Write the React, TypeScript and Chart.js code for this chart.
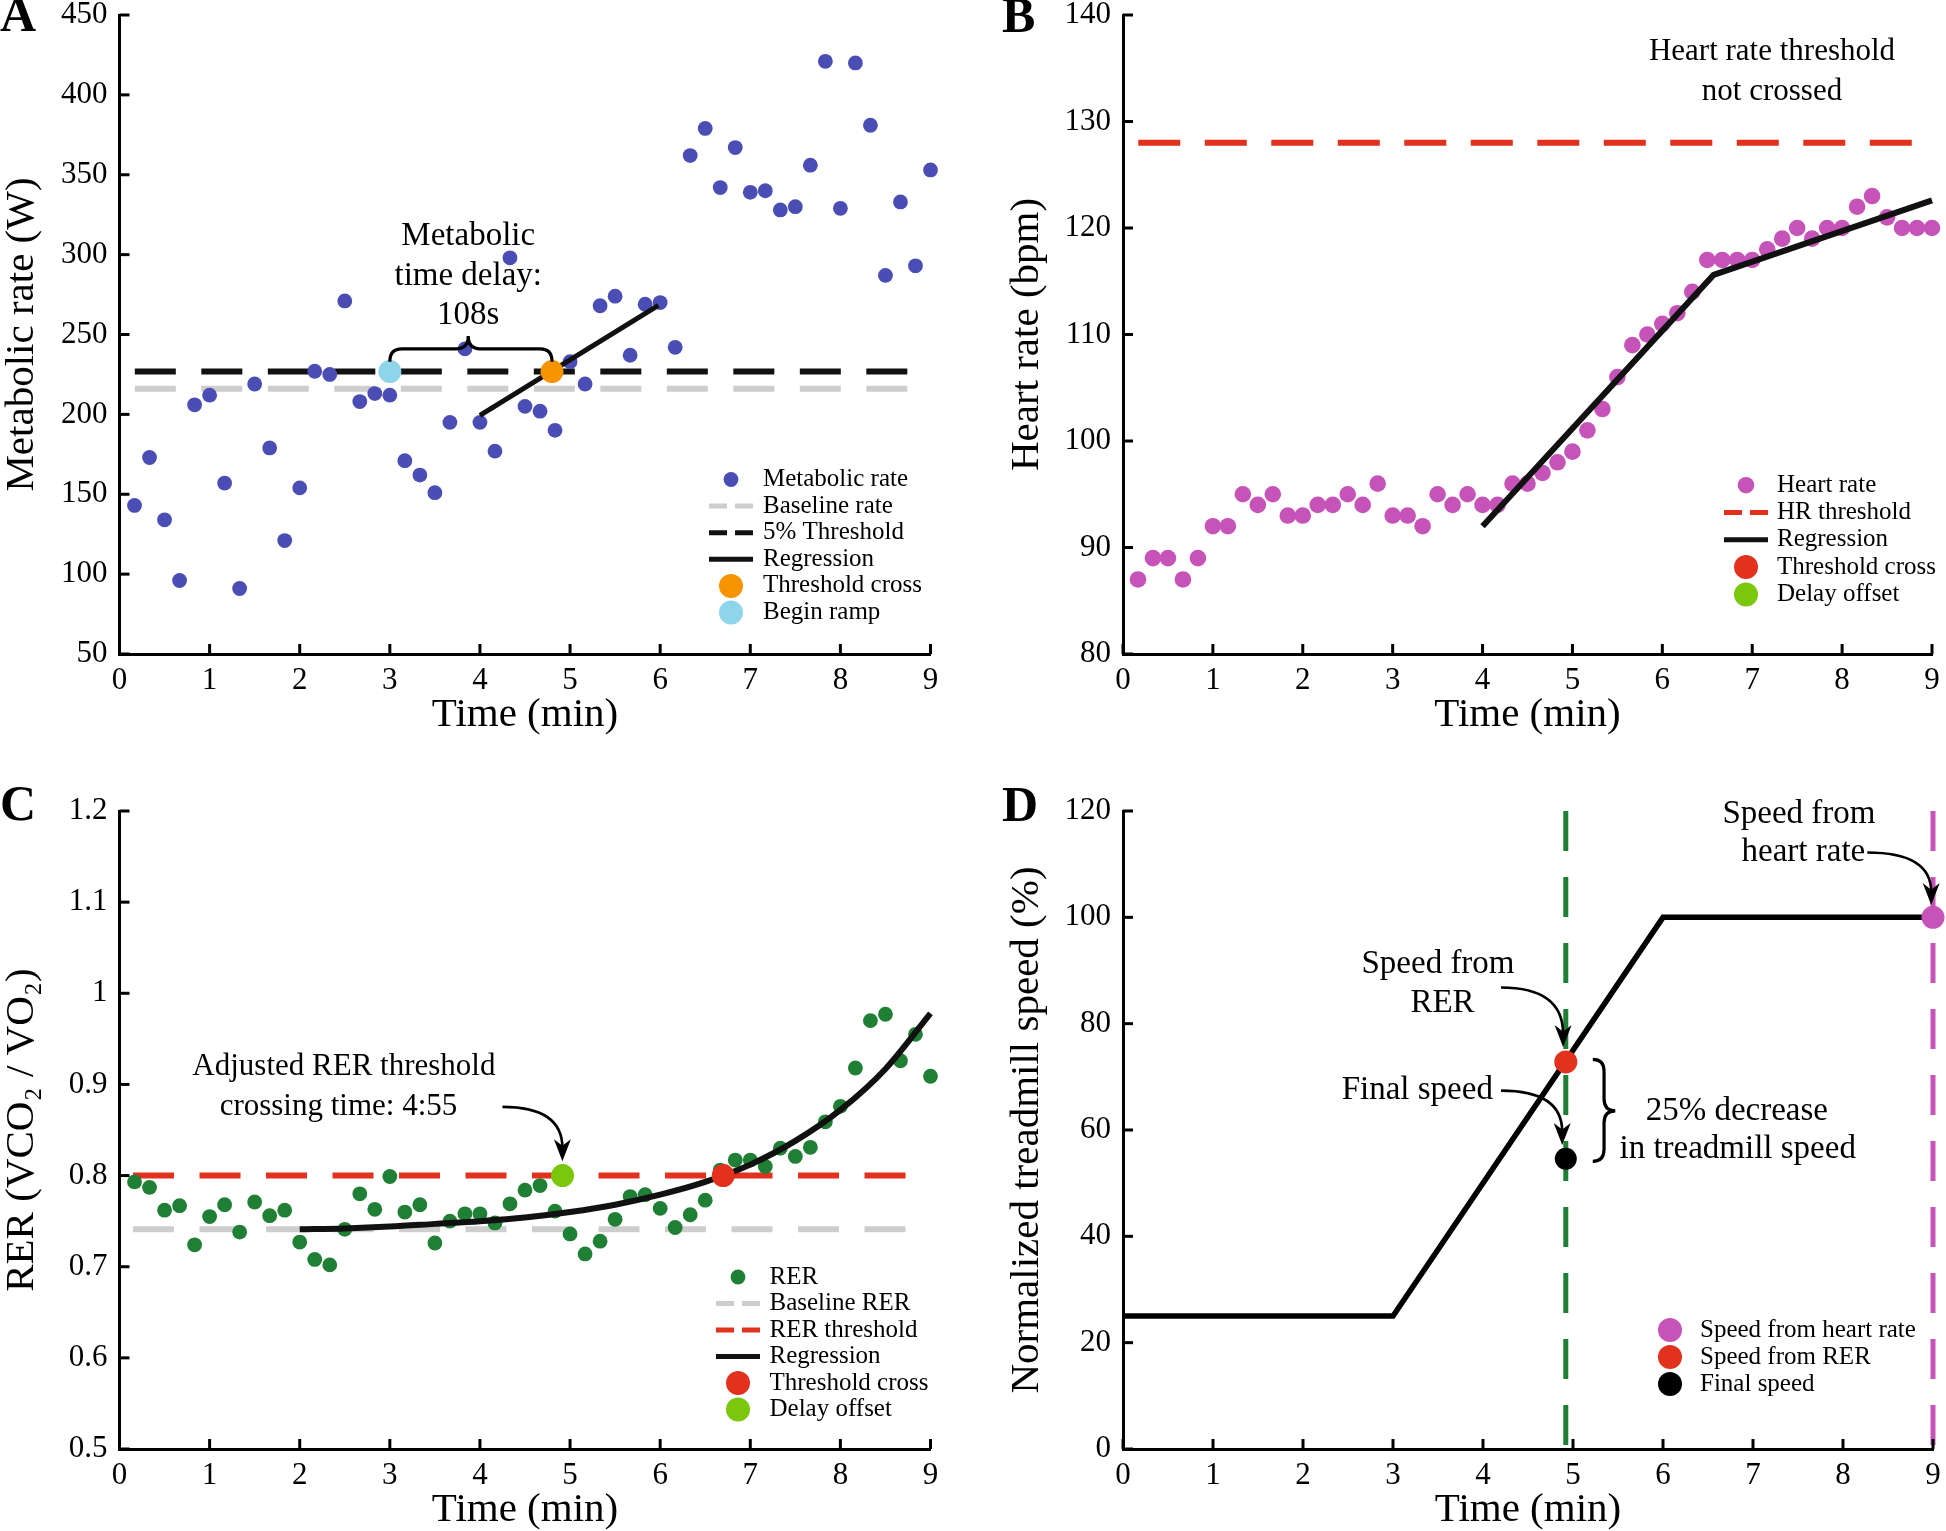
import React, { useEffect, useRef } from 'react';
import { Chart, registerables } from 'chart.js';

Chart.register(...registerables);

const SERIF = '"Liberation Serif", "Times New Roman", Times, serif';

// ---------- data ----------
const sampleTimeSec = [
  10, 20, 30, 40, 50, 60, 70, 80, 90, 100, 110, 120, 130, 140, 150, 160, 170, 180,
  190, 200, 210, 220, 230, 240, 250, 260, 270, 280, 290, 300, 310, 320, 330, 340, 350, 360,
  370, 380, 390, 400, 410, 420, 430, 440, 450, 460, 470, 480, 490, 500, 510, 520, 530, 540,
];

// Panel A: metabolic rate (W)
const metabolicW = [
  143, 173, 134, 96, 206, 212, 157, 91, 219, 179, 121, 154, 227, 225, 271, 208, 213, 212,
  171, 162, 151, 195, 241, 195, 177, 298, 205, 202, 190, 233, 219, 268, 274, 237, 269, 270,
  242, 362, 379, 342, 367, 339, 340, 328, 330, 356, 421, 329, 420, 381, 287, 333, 293, 353,
];
const metBaselineW = 216;
const metThresholdW = 226.8;
const metRefLineMin = [0.17, 9];
const metRegMin = [4.0, 5.98];
const metRegW = [199.3, 268.2];
const metBeginRamp = { x: 3.0, y: 226.8 };
const metThresholdCross = { x: 4.8, y: 226.8 };

// Panel B: heart rate (bpm)
const heartRateBpm = [
  87, 89, 89, 87, 89, 92, 92, 95, 94, 95, 93, 93, 94, 94, 95, 94, 96, 93,
  93, 92, 95, 94, 95, 94, 94, 96, 96, 97, 98, 99, 101, 103, 106, 109, 110, 111,
  112, 114, 117, 117, 117, 117, 118, 119, 120, 119, 120, 120, 122, 123, 121, 120, 120, 120,
];
const hrThresholdBpm = 128;
const hrRefLineMin = [0.17, 9];
const hrRegMin = [4.0, 6.57, 9.0];
const hrRegBpm = [92.0, 115.6, 122.6];

// Panel C: RER
const rerValues = [
  0.793, 0.787, 0.762, 0.767, 0.724, 0.755, 0.768, 0.738, 0.771, 0.756, 0.762, 0.727, 0.708, 0.702, 0.741, 0.78, 0.763, 0.799,
  0.76, 0.768, 0.726, 0.75, 0.758, 0.758, 0.748, 0.769, 0.784, 0.789, 0.761, 0.736, 0.714, 0.728, 0.752, 0.777, 0.779, 0.764,
  0.743, 0.757, 0.773, 0.806, 0.817, 0.817, 0.81, 0.83, 0.821, 0.831, 0.859, 0.876, 0.918, 0.97, 0.977, 0.926, 0.955, 0.909,
];
const rerBaseline = 0.741;
const rerThreshold = 0.8;
const rerRefLineMin = [0.15, 8.8];
const rerFitMin = [2, 2.5, 3, 3.5, 4, 4.5, 5, 5.5, 6, 6.5, 7, 7.5, 8, 8.5, 9];
const rerFitValue = [0.741, 0.742, 0.744, 0.747, 0.75, 0.754, 0.76, 0.768, 0.779, 0.793, 0.812, 0.838, 0.872, 0.917, 0.978];
const rerThresholdCross = { x: 6.7, y: 0.8 };
const rerDelayOffset = { x: 4.917, y: 0.8 };

// Panel D: normalized treadmill speed (%)
const speedTimeMin = [0, 3, 6, 9];
const speedPct = [25, 25, 100, 100];
const rerSpeedTimeMin = 4.92;
const hrSpeedTimeMin = 9;
const speedFromHr = { x: 9, y: 100 };
const speedFromRer = { x: 4.92, y: 72.8 };
const finalSpeed = { x: 4.92, y: 54.6 };
const vLinePct = [120, 0];

// ---------- colours ----------
const C_BLUE = '#4a4db3';
const C_GRAY = '#cdcdcd';
const C_ORANGE = '#f59300';
const C_LIGHTBLUE = '#8fd5ea';
const C_MAGENTA = '#c653b8';
const C_RED = '#e2311d';
const C_LIME = '#7ac70c';
const C_GREEN = '#1f7f34';

// ---------- helpers ----------
const toMin = (s: number) => s / 60;
const pts = (xs: number[], ys: number[]) => xs.map((x, i) => ({ x, y: ys[i] }));

function scatterSet(data: any[], color: string, r: number) {
  return {
    type: 'scatter', data, showLine: false, pointRadius: r, pointHoverRadius: r,
    backgroundColor: color, pointBackgroundColor: color, pointBorderWidth: 0, borderWidth: 0, clip: false,
  };
}
function lineSet(data: any[], color: string, width: number, dash: number[] = [], smooth = false) {
  return {
    type: 'scatter', data, showLine: true, pointRadius: 0, pointHoverRadius: 0, borderColor: color,
    backgroundColor: color, borderWidth: width, borderDash: dash, fill: false, clip: false,
    cubicInterpolationMode: smooth ? 'monotone' : 'default', tension: 0,
  };
}

function txt(ctx: CanvasRenderingContext2D, s: string, x: number, y: number, size: number, align: CanvasTextAlign = 'center', bold = false) {
  ctx.font = `${bold ? 'bold ' : ''}${size}px ${SERIF}`;
  ctx.fillStyle = '#000';
  ctx.textAlign = align;
  ctx.textBaseline = 'middle';
  ctx.fillText(s, x, y);
}

function curvedArrow(ctx: CanvasRenderingContext2D, x0: number, y0: number, x1: number, y1: number) {
  const cx = x1, cy = y0;
  const dx = x1 - cx, dy = y1 - cy;
  const L = Math.hypot(dx, dy) || 1;
  const ux = dx / L, uy = dy / L;
  const head = 22, half = 8.5;
  ctx.strokeStyle = '#000';
  ctx.lineWidth = 2.6;
  ctx.setLineDash([]);
  ctx.beginPath();
  ctx.moveTo(x0, y0);
  ctx.quadraticCurveTo(cx, cy, x1 - ux * head * 0.6, y1 - uy * head * 0.6);
  ctx.stroke();
  const bx = x1 - ux * head, by = y1 - uy * head;
  ctx.fillStyle = '#000';
  ctx.beginPath();
  ctx.moveTo(x1, y1);
  ctx.lineTo(bx - uy * half, by + ux * half);
  ctx.lineTo(x1 - ux * head * 0.7, y1 - uy * head * 0.7);
  ctx.lineTo(bx + uy * half, by - ux * half);
  ctx.closePath();
  ctx.fill();
}

function hBrace(ctx: CanvasRenderingContext2D, x1: number, x2: number, xm: number, yb: number, yt: number) {
  const ya = (yb + yt) / 2;
  const q = 12;
  ctx.strokeStyle = '#000';
  ctx.lineWidth = 3.2;
  ctx.setLineDash([]);
  ctx.beginPath();
  ctx.moveTo(x1, yb);
  ctx.quadraticCurveTo(x1, ya, x1 + q, ya);
  ctx.lineTo(xm - q, ya);
  ctx.quadraticCurveTo(xm, ya, xm, yt);
  ctx.quadraticCurveTo(xm, ya, xm + q, ya);
  ctx.lineTo(x2 - q, ya);
  ctx.quadraticCurveTo(x2, ya, x2, yb);
  ctx.stroke();
}

function vBrace(ctx: CanvasRenderingContext2D, xl: number, xt: number, yTop: number, yMid: number, yBot: number) {
  const xa = (xl + xt) / 2;
  const q = 12;
  ctx.strokeStyle = '#000';
  ctx.lineWidth = 3.2;
  ctx.setLineDash([]);
  ctx.beginPath();
  ctx.moveTo(xl, yTop);
  ctx.quadraticCurveTo(xa, yTop, xa, yTop + q);
  ctx.lineTo(xa, yMid - q);
  ctx.quadraticCurveTo(xa, yMid, xt, yMid);
  ctx.quadraticCurveTo(xa, yMid, xa, yMid + q);
  ctx.lineTo(xa, yBot - q);
  ctx.quadraticCurveTo(xa, yBot, xl, yBot);
  ctx.stroke();
}

type LegendItem = { kind: 'dot' | 'dash' | 'line'; color: string; r?: number; label: string };
function drawLegend(chart: any, ctx: CanvasRenderingContext2D, items: LegendItem[], mx: number, tx: number, y0: number, dy: number) {
  const a = chart.chartArea;
  items.forEach((it, i) => {
    const y = a.top + y0 + i * dy;
    const x = a.left + mx;
    if (it.kind === 'dot') {
      ctx.fillStyle = it.color;
      ctx.beginPath();
      ctx.arc(x, y, it.r || 8, 0, Math.PI * 2);
      ctx.fill();
    } else {
      ctx.strokeStyle = it.color;
      ctx.lineWidth = 5;
      ctx.lineCap = 'butt';
      ctx.setLineDash(it.kind === 'dash' ? [18, 8] : []);
      ctx.beginPath();
      ctx.moveTo(x - 22, y);
      ctx.lineTo(x + 22, y);
      ctx.stroke();
      ctx.setLineDash([]);
    }
    txt(ctx, it.label, a.left + tx, y, 25, 'left');
  });
}

function inwardTicks(chart: any) {
  const ctx = chart.ctx;
  const a = chart.chartArea;
  const xs = chart.scales.x, ys = chart.scales.y;
  ctx.save();
  ctx.strokeStyle = '#000';
  ctx.lineWidth = 3;
  ctx.setLineDash([]);
  xs.ticks.forEach((t: any) => {
    const p = xs.getPixelForValue(t.value);
    ctx.beginPath();
    ctx.moveTo(p, a.bottom);
    ctx.lineTo(p, a.bottom - 10);
    ctx.stroke();
  });
  ys.ticks.forEach((t: any) => {
    const p = ys.getPixelForValue(t.value);
    ctx.beginPath();
    ctx.moveTo(a.left, p);
    ctx.lineTo(a.left + 10, p);
    ctx.stroke();
  });
  ctx.restore();
}

interface PanelSpec {
  yMin: number; yMax: number; yStep: number; yTitle: string;
  yWidth: number; xHeight: number; padTop: number; padRight: number;
  yTitlePad: number; xTitlePad: number; yFmt?: (v: number) => string;
}

function makeOptions(s: PanelSpec): any {
  const titleFont = { family: SERIF, size: 41, lineHeight: 1 };
  const border = { display: true, color: '#000', width: 3 };
  return {
    responsive: false,
    animation: false,
    events: [],
    layout: { padding: { top: s.padTop, right: s.padRight, bottom: 0, left: 0 }, autoPadding: false },
    plugins: { legend: { display: false }, tooltip: { enabled: false } },
    scales: {
      x: {
        type: 'linear', position: 'bottom', min: 0, max: 9, border,
        grid: { display: true, drawOnChartArea: false, drawTicks: true, tickLength: 11.5, tickColor: 'rgba(0,0,0,0)' },
        ticks: { stepSize: 1, font: { family: SERIF, size: 31, lineHeight: 1 }, color: '#000', padding: 0, maxRotation: 0, autoSkip: false },
        title: { display: true, text: 'Time (min)', font: titleFont, color: '#000', padding: { top: 0, bottom: s.xTitlePad } },
        afterFit: (sc: any) => { sc.height = s.xHeight; },
      },
      y: {
        type: 'linear', position: 'left', min: s.yMin, max: s.yMax, border,
        grid: { display: true, drawOnChartArea: false, drawTicks: true, tickLength: 12, tickColor: 'rgba(0,0,0,0)' },
        ticks: {
          stepSize: s.yStep, font: { family: SERIF, size: 31, lineHeight: 0.9 }, color: '#000', padding: 0, autoSkip: false,
          callback: (v: any) => (s.yFmt ? s.yFmt(Number(v)) : String(v)),
        },
        title: { display: true, text: s.yTitle, font: titleFont, color: '#000', padding: { top: s.yTitlePad, bottom: 0 } },
        afterFit: (sc: any) => { sc.width = s.yWidth; },
      },
    },
  };
}

function decorPlugin(letter: string, lx: number, ly: number, draw: (chart: any, ctx: CanvasRenderingContext2D, X: (v: number) => number, Y: (v: number) => number) => void) {
  return {
    id: 'decor' + letter,
    afterDraw(chart: any) {
      inwardTicks(chart);
      const ctx = chart.ctx as CanvasRenderingContext2D;
      const X = (v: number) => chart.scales.x.getPixelForValue(v);
      const Y = (v: number) => chart.scales.y.getPixelForValue(v);
      ctx.save();
      draw(chart, ctx, X, Y);
      txt(ctx, letter, lx, ly, 50, 'left', true);
      ctx.restore();
    },
  };
}

// ---------- panel configs ----------
function configA(): any {
  const t = sampleTimeSec.map(toMin);
  return {
    type: 'scatter',
    data: {
      datasets: [
        scatterSet([metThresholdCross], C_ORANGE, 11.5),
        scatterSet([metBeginRamp], C_LIGHTBLUE, 11.5),
        lineSet(pts(metRegMin, metRegW), '#111', 5),
        scatterSet(pts(t, metabolicW), C_BLUE, 7.4),
        lineSet(pts(metRefLineMin, [metThresholdW, metThresholdW]), '#111', 6, [41, 25.5]),
        lineSet(pts(metRefLineMin, [metBaselineW, metBaselineW]), C_GRAY, 6, [41, 25.5]),
      ],
    },
    options: makeOptions({
      yMin: 50, yMax: 450, yStep: 50, yTitle: 'Metabolic rate (W)',
      yWidth: 119.5, xHeight: 111, padTop: 15, padRight: 42.5, yTitlePad: 1.5, xTitlePad: 29.5,
    }),
    plugins: [decorPlugin('A', 0, 18, (chart, ctx, X, Y) => {
      txt(ctx, 'Metabolic', X(3.87), Y(311.7), 33);
      txt(ctx, 'time delay:', X(3.87), Y(286.5), 33);
      txt(ctx, '108s', X(3.87), Y(262), 33);
      hBrace(ctx, X(3.0), X(4.8), X(3.87), Y(233), Y(249));
      drawLegend(chart, ctx, [
        { kind: 'dot', color: C_BLUE, r: 7.4, label: 'Metabolic rate' },
        { kind: 'dash', color: C_GRAY, label: 'Baseline rate' },
        { kind: 'dash', color: '#111', label: '5% Threshold' },
        { kind: 'line', color: '#111', label: 'Regression' },
        { kind: 'dot', color: C_ORANGE, r: 12, label: 'Threshold cross' },
        { kind: 'dot', color: C_LIGHTBLUE, r: 12, label: 'Begin ramp' },
      ], 611.5, 643.5, 464.5, 26.6);
    })],
  };
}

function configB(): any {
  const t = sampleTimeSec.map(toMin);
  return {
    type: 'scatter',
    data: {
      datasets: [
        lineSet(pts(hrRegMin, hrRegBpm), '#111', 6),
        scatterSet(pts(t, heartRateBpm), C_MAGENTA, 8.3),
        lineSet(pts(hrRefLineMin, [hrThresholdBpm, hrThresholdBpm]), C_RED, 6, [42, 24.5]),
      ],
    },
    options: makeOptions({
      yMin: 80, yMax: 140, yStep: 10, yTitle: 'Heart rate (bpm)',
      yWidth: 133, xHeight: 111, padTop: 15, padRight: 14, yTitlePad: 17, xTitlePad: 29.5,
    }),
    plugins: [decorPlugin('B', 12, 19.5, (chart, ctx, X, Y) => {
      txt(ctx, 'Heart rate threshold', X(7.22), Y(136.5), 31);
      txt(ctx, 'not crossed', X(7.22), Y(132.8), 31);
      drawLegend(chart, ctx, [
        { kind: 'dot', color: C_MAGENTA, r: 8.3, label: 'Heart rate' },
        { kind: 'dash', color: C_RED, label: 'HR threshold' },
        { kind: 'line', color: '#111', label: 'Regression' },
        { kind: 'dot', color: C_RED, r: 12, label: 'Threshold cross' },
        { kind: 'dot', color: C_LIME, r: 12, label: 'Delay offset' },
      ], 623, 654, 470.2, 27.3);
    })],
  };
}

function configC(): any {
  const t = sampleTimeSec.map(toMin);
  return {
    type: 'scatter',
    data: {
      datasets: [
        scatterSet([rerThresholdCross], C_RED, 11.5),
        scatterSet([rerDelayOffset], C_LIME, 11.5),
        lineSet(pts(rerFitMin, rerFitValue), '#111', 6, [], true),
        scatterSet(pts(t, rerValues), C_GREEN, 7.4),
        lineSet(pts(rerRefLineMin, [rerThreshold, rerThreshold]), C_RED, 6, [41, 25.5]),
        lineSet(pts(rerRefLineMin, [rerBaseline, rerBaseline]), C_GRAY, 6, [41, 25.5]),
      ],
    },
    options: makeOptions({
      yMin: 0.5, yMax: 1.2, yStep: 0.1, yTitle: 'RER (VCO\u2082 / VO\u2082)',
      yWidth: 119.5, xHeight: 82, padTop: 31, padRight: 42.5, yTitlePad: 1.5, xTitlePad: 0,
      yFmt: (v) => String(Math.round(v * 10) / 10),
    }),
    plugins: [decorPlugin('C', 0, 27.5, (chart, ctx, X, Y) => {
      txt(ctx, 'Adjusted RER threshold', X(2.49), Y(0.919), 31);
      txt(ctx, 'crossing time: 4:55', X(2.43), Y(0.875), 31);
      curvedArrow(ctx, X(4.25), Y(0.8754), X(4.915), Y(0.8158));
      drawLegend(chart, ctx, [
        { kind: 'dot', color: C_GREEN, r: 7.4, label: 'RER' },
        { kind: 'dash', color: C_GRAY, label: 'Baseline RER' },
        { kind: 'dash', color: C_RED, label: 'RER threshold' },
        { kind: 'line', color: '#111', label: 'Regression' },
        { kind: 'dot', color: C_RED, r: 12, label: 'Threshold cross' },
        { kind: 'dot', color: C_LIME, r: 12, label: 'Delay offset' },
      ], 618.5, 650, 466, 26.5);
    })],
  };
}

function configD(): any {
  return {
    type: 'scatter',
    data: {
      datasets: [
        scatterSet([speedFromHr], C_MAGENTA, 11.5),
        scatterSet([speedFromRer], C_RED, 11.5),
        scatterSet([finalSpeed], '#000', 11),
        lineSet(pts(speedTimeMin, speedPct), '#000', 5.5),
        lineSet(pts([rerSpeedTimeMin, rerSpeedTimeMin], vLinePct), C_GREEN, 5, [40, 26]),
        lineSet(pts([hrSpeedTimeMin, hrSpeedTimeMin], vLinePct), C_MAGENTA, 5, [40, 26]),
      ],
    },
    options: makeOptions({
      yMin: 0, yMax: 120, yStep: 20, yTitle: 'Normalized treadmill speed (%)',
      yWidth: 133, xHeight: 82, padTop: 31, padRight: 13, yTitlePad: 17, xTitlePad: 0,
    }),
    plugins: [decorPlugin('D', 12, 28.5, (chart, ctx, X, Y) => {
      txt(ctx, 'Speed from', X(7.51), Y(119.4), 33);
      txt(ctx, 'heart rate', X(7.56), Y(112.2), 33);
      curvedArrow(ctx, X(8.27), Y(112.2), X(8.98), Y(102.3));
      txt(ctx, 'Speed from', X(3.5), Y(91.2), 33);
      txt(ctx, 'RER', X(3.55), Y(83.8), 33);
      curvedArrow(ctx, X(4.2), Y(86.8), X(4.89), Y(75.6));
      txt(ctx, 'Final speed', X(3.27), Y(67.4), 33);
      curvedArrow(ctx, X(4.2), Y(67.4), X(4.88), Y(57.2));
      vBrace(ctx, X(5.22), X(5.47), Y(73.3), Y(63.6), Y(54.1));
      txt(ctx, '25% decrease', X(6.82), Y(63.6), 33);
      txt(ctx, 'in treadmill speed', X(6.83), Y(56.3), 33);
      drawLegend(chart, ctx, [
        { kind: 'dot', color: C_MAGENTA, r: 12, label: 'Speed from heart rate' },
        { kind: 'dot', color: C_RED, r: 12, label: 'Speed from RER' },
        { kind: 'dot', color: '#000', r: 12, label: 'Final speed' },
      ], 547, 577, 519, 27);
    })],
  };
}

function Panel({ left, top, width, height, build }: { left: number; top: number; width: number; height: number; build: () => any }) {
  const ref = useRef<HTMLCanvasElement>(null);
  useEffect(() => {
    const chart = new Chart(ref.current as HTMLCanvasElement, build());
    return () => chart.destroy();
  }, []);
  return (
    <canvas
      ref={ref}
      width={width}
      height={height}
      style={{ position: 'absolute', left, top, width, height, display: 'block' }}
    />
  );
}

export default function App() {
  return (
    <div style={{ position: 'absolute', left: 0, top: 0, width: 1946, height: 1531, background: '#fff', overflow: 'hidden' }}>
      <Panel left={0} top={0} width={973} height={765} build={configA} />
      <Panel left={990} top={0} width={956} height={765} build={configB} />
      <Panel left={0} top={780} width={973} height={751} build={configC} />
      <Panel left={990} top={780} width={956} height={751} build={configD} />
    </div>
  );
}
